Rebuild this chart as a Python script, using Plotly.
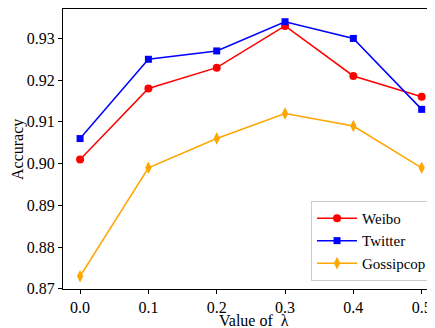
import plotly.graph_objects as go

lambdas = [0.0, 0.1, 0.2, 0.3, 0.4, 0.5]
weibo = [0.901, 0.918, 0.923, 0.933, 0.921, 0.916]
twitter = [0.906, 0.925, 0.927, 0.934, 0.930, 0.913]
gossipcop = [0.873, 0.899, 0.906, 0.912, 0.909, 0.899]
x_ticks = [0.0, 0.1, 0.2, 0.3, 0.4, 0.5]
x_tick_labels = ["0.0", "0.1", "0.2", "0.3", "0.4", "0.5"]
y_ticks = [0.87, 0.88, 0.89, 0.90, 0.91, 0.92, 0.93]
y_tick_labels = ["0.87", "0.88", "0.89", "0.90", "0.91", "0.92", "0.93"]
x_title = "Value of  λ"
y_title = "Accuracy"

FONT = "Liberation Serif, Times New Roman, serif"

fig = go.Figure()
fig.add_trace(go.Scatter(x=lambdas, y=weibo, name="Weibo", mode="lines+markers",
                         line=dict(color="red", width=1.5),
                         marker=dict(symbol="circle", size=8, color="red")))
fig.add_trace(go.Scatter(x=lambdas, y=twitter, name="Twitter", mode="lines+markers",
                         line=dict(color="blue", width=1.5),
                         marker=dict(symbol="square", size=7, color="blue")))
fig.add_trace(go.Scatter(x=lambdas, y=gossipcop, name="Gossipcop", mode="lines+markers",
                         line=dict(color="orange", width=1.5),
                         marker=dict(symbol="diamond-tall", size=9, color="orange")))

fig.update_layout(
    width=427, height=320,
    margin=dict(l=55, r=0, t=1, b=39, autoexpand=False),
    plot_bgcolor="white", paper_bgcolor="white",
    font=dict(family=FONT, size=16, color="black"),
    showlegend=True,
    legend=dict(x=0.992, y=0.029, xanchor="right", yanchor="bottom",
                bgcolor="rgba(255,255,255,0.8)", bordercolor="#cccccc", borderwidth=1,
                font=dict(family=FONT, size=15), itemwidth=40, tracegroupgap=0),
    annotations=[
        dict(text=x_title, xref="paper", yref="paper", x=0.513, y=-0.1125,
             xanchor="center", yanchor="middle", showarrow=False,
             font=dict(family=FONT, size=16, color="black")),
        dict(text=y_title, xref="paper", yref="paper", x=-0.121, y=0.5,
             xanchor="center", yanchor="middle", showarrow=False, textangle=-90,
             font=dict(family=FONT, size=16, color="black")),
    ],
)
fig.update_xaxes(range=[-0.025, 0.5195], tickvals=x_ticks, ticktext=x_tick_labels,
                 showgrid=False, zeroline=False, showline=True, linecolor="black",
                 linewidth=1, mirror=True, ticks="outside", ticklen=4, tickcolor="black",
                 automargin=False, tickfont=dict(size=16))
fig.update_yaxes(range=[0.86995, 0.93705], tickvals=y_ticks, ticktext=y_tick_labels,
                 showgrid=False, zeroline=False, showline=True, linecolor="black",
                 linewidth=1, mirror=False, ticks="outside", ticklen=4, tickcolor="black",
                 automargin=False, tickfont=dict(size=16))

fig.write_html("out.html")
